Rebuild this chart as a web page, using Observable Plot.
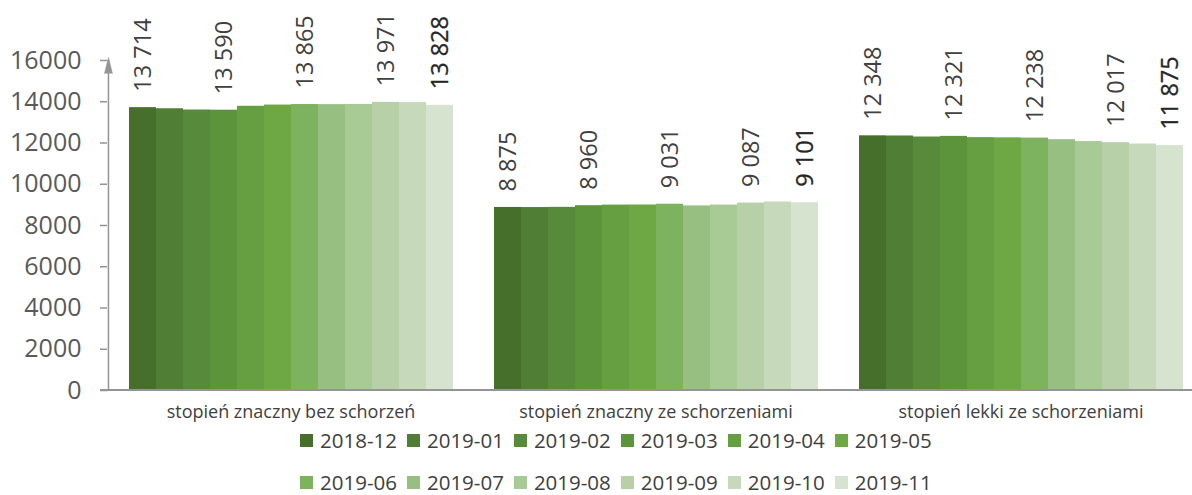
<!DOCTYPE html>
<html><head><meta charset="utf-8">
<script src="https://cdn.jsdelivr.net/npm/d3@7"></script>
<script src="https://cdn.jsdelivr.net/npm/@observablehq/plot@0.6"></script>
<style>
body{margin:0;background:#fff;font-family:"Open Sans",sans-serif;overflow:hidden;}
#chart svg{display:block;}
#legend{padding-left:300px;}
.row{display:flex;height:20px;align-items:center;}
#legend .row:first-child{margin-top:5px;}
.row+.row{margin-top:22px;}
.item{display:flex;align-items:center;margin-right:10px;font-size:20.5px;color:#404040;line-height:20px;}
.sw{width:13px;height:13px;margin-right:7px;flex:none;}
</style></head><body><div id="chart"></div><div id="legend"></div>
<script>
const categories = ["stopień znaczny bez schorzeń", "stopień znaczny ze schorzeniami", "stopień lekki ze schorzeniami"];
const series = ["2018-12","2019-01","2019-02","2019-03","2019-04","2019-05","2019-06","2019-07","2019-08","2019-09","2019-10","2019-11"];
const valuesZnacznyBez = [13714, 13660, 13600, 13590, 13780, 13840, 13865, 13860, 13870, 13971, 13960, 13828];
const valuesZnacznyZe  = [8875, 8870, 8880, 8960, 8990, 8995, 9031, 8950, 8990, 9087, 9140, 9101];
const valuesLekkiZe    = [12348, 12340, 12290, 12321, 12260, 12250, 12238, 12160, 12070, 12017, 11950, 11875];
const labeledSeries = ["2018-12","2019-03","2019-06","2019-09","2019-11"];
const boldSeries = ["2019-11"];
const yTicks = [0, 2000, 4000, 6000, 8000, 10000, 12000, 14000, 16000];
const palette = ["#466f2b","#4f7e34","#578a3a","#5c943c","#659f42","#6ea845","#7db35e","#98bf82","#a8cb96","#b7d0a8","#c6d9bb","#d6e4cf"];

const valueArrays = [valuesZnacznyBez, valuesZnacznyZe, valuesLekkiZe];
const data = categories.flatMap((c, ci) => series.map((s, si) => ({cat: c, s, v: valueArrays[ci][si]})));
const fmt = d3.formatLocale({decimal: ",", thousands: " ", grouping: [3], currency: ["", ""]}).format(",d");

const W = 1192, H = 425, ML = 128, MR = 9, MT = 60, MB = 35;
const gap = 40;
const fxPad = gap / ((W - ML - MR + gap) / categories.length);
const bandW = (W - ML - MR - gap * (categories.length - 1)) / categories.length;
const barHalf = bandW / series.length / 2;
const axisOffset = 21;
const tickLen = 7;
const grey = "#949494";
const anchor = [{cat: categories[0], s: series[0], top: yTicks[yTicks.length - 1]}];

const chart = Plot.plot({
  width: W, height: H, marginLeft: ML, marginRight: MR, marginTop: MT, marginBottom: MB,
  style: {fontFamily: "'Open Sans', sans-serif", color: "#404040", background: "#fff", overflow: "visible"},
  fx: {domain: categories, paddingInner: fxPad, paddingOuter: 0, label: null},
  x: {domain: series, padding: 0, axis: null},
  y: {domain: [0, 16000], axis: null},
  color: {domain: series, range: palette},
  marks: [
    Plot.barY(data, {fx: "cat", x: "s", y: "v", fill: "s"}),
    Plot.ruleX(anchor, {fx: "cat", x: "s", y1: 0, y2: "top", stroke: grey, strokeWidth: 1.5, dx: -(barHalf + axisOffset)}),
    Plot.vector(anchor, {fx: "cat", x: "s", y: "top", shape: "spike", length: 16, r: 4, anchor: "start", fill: grey, stroke: grey, strokeWidth: 0.5, dx: -(barHalf + axisOffset), dy: 13}),
    Plot.axisY({ticks: yTicks, tickFormat: d => String(d), tickSize: tickLen, tickPadding: 19, dx: -axisOffset, fontSize: 25, stroke: grey, strokeWidth: 1.5, fill: "#595959", label: null}),
    Plot.axisFx({anchor: "bottom", tickSize: 0, tickPadding: 15, fontSize: 18, fill: "#404040", label: null}),
    Plot.text(data.filter(d => labeledSeries.includes(d.s) && !boldSeries.includes(d.s)), {fx: "cat", x: "s", y: "v", text: d => fmt(d.v), rotate: -90, textAnchor: "start", lineAnchor: "middle", dy: -16, fontSize: 23.5, fill: "#404040"}),
    Plot.text(data.filter(d => boldSeries.includes(d.s)), {fx: "cat", x: "s", y: "v", text: d => fmt(d.v), rotate: -90, textAnchor: "start", lineAnchor: "middle", dy: -16, fontSize: 23.5, fill: "#262626", stroke: "#262626", strokeWidth: 0.3})
  ]
});
// continuous category-axis baseline at y = 0, across all facets
const y0 = chart.scale("y").apply(0);
d3.select(chart).append("line")
  .attr("x1", ML - axisOffset - tickLen).attr("x2", W)
  .attr("y1", y0).attr("y2", y0)
  .attr("stroke", grey).attr("stroke-width", 2);
document.getElementById("chart").appendChild(chart);

const legend = d3.select("#legend");
const rows = [series.slice(0, 6), series.slice(6)];
rows.forEach(r => {
  const row = legend.append("div").attr("class", "row");
  r.forEach(s => {
    const it = row.append("div").attr("class", "item");
    it.append("div").attr("class", "sw").style("background", palette[series.indexOf(s)]);
    it.append("span").text(s);
  });
});
</script></body></html>
